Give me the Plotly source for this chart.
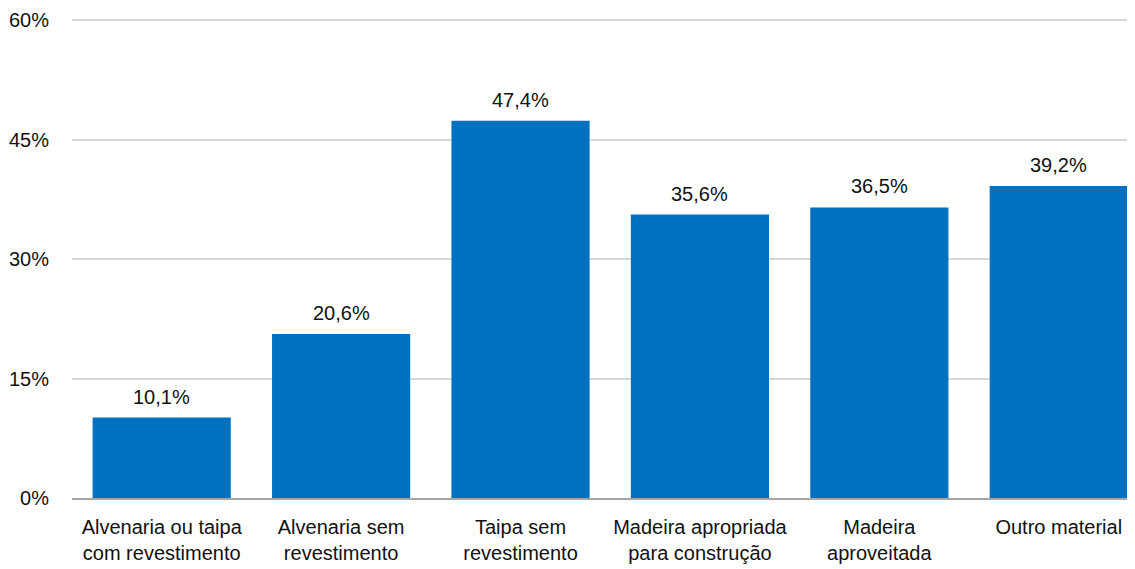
import plotly.graph_objects as go

categories = [
    "Alvenaria ou taipa<br>com revestimento",
    "Alvenaria sem<br>revestimento",
    "Taipa sem<br>revestimento",
    "Madeira apropriada<br>para construção",
    "Madeira<br>aproveitada",
    "Outro material",
]
values = [10.1, 20.6, 47.4, 35.6, 36.5, 39.2]
tick_vals = [0, 15, 30, 45, 60]
tick_text = ["0%", "15%", "30%", "45%", "60%"]

labels = [f"{v:.1f}%".replace(".", ",") for v in values]
FONT = "Liberation Sans, Arial, sans-serif"
FS = 20
xs = list(range(len(categories)))

fig = go.Figure(
    go.Bar(
        x=xs,
        y=values,
        marker=dict(color="#0070C0", line=dict(width=0)),
        width=0.77,
    )
)

for x, v, t in zip(xs, values, labels):
    fig.add_annotation(
        x=x, y=v, text=t, showarrow=False, yanchor="bottom",
        yshift=8, font=dict(family=FONT, size=FS, color="#111111"),
    )

# page body has an 8px margin, so the figure is sized/margined to compensate
fig.update_layout(
    width=1127,
    height=561,
    margin=dict(l=64, r=0, t=10, b=71),
    paper_bgcolor="white",
    plot_bgcolor="white",
    font=dict(family=FONT, size=FS, color="#111111"),
    showlegend=False,
)
fig.update_xaxes(
    range=[-0.5, 5.425],
    tickvals=xs,
    ticktext=categories,
    showgrid=False,
    showline=True,
    linecolor="#A6A6A6",
    linewidth=2,
    ticks="",
    automargin=False,
    tickfont=dict(family=FONT, size=FS, color="#111111"),
    ticklabelstandoff=10,
)
fig.update_yaxes(
    range=[0, 60.3],
    tickvals=tick_vals,
    ticktext=tick_text,
    showgrid=True,
    gridcolor="#D9D9D9",
    gridwidth=2,
    zeroline=False,
    showline=False,
    ticks="",
    automargin=False,
    tickfont=dict(family=FONT, size=FS, color="#111111"),
    ticklabelstandoff=22,
)

fig.write_html("out.html")
